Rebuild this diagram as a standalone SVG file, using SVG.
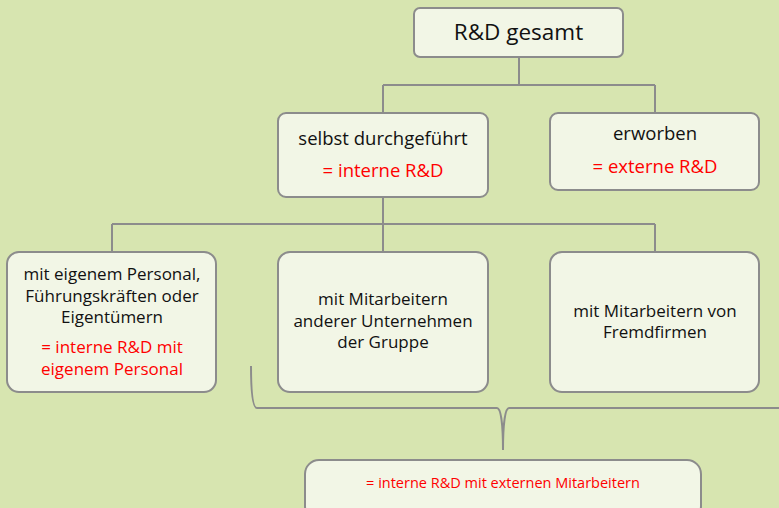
<svg xmlns="http://www.w3.org/2000/svg" width="779" height="508" viewBox="0 0 779 508">
<style>
.bg{fill:#d7e5b0}
.box{fill:#f2f6e6;stroke:#8c8c8c;stroke-width:2}
.ln{fill:none;stroke:#8c8c8c;stroke-width:2}
text{font-family:"Open Sans","Liberation Sans",sans-serif;text-anchor:middle;fill:#111}
.r{fill:#ff0000}
.t16{font-size:18.5px}
.t15{font-size:17px}
.t13{font-size:14.5px}
</style>
<rect class="bg" x="0" y="0" width="779" height="508"/>
<g id="connectors">
<path class="ln" d="M519 57V85M383 85H655M383 85V113M655 85V113"/>
<path class="ln" d="M383 197V224M112 224H655M112 224V252M383 224V252M655 224V252"/>
<path class="ln" d="M251 366C251 395 253 408 257 408H497C501 408 503 425 503 450C503 425 505 408 509 408H779"/>
</g>
<g id="n-gesamt">
<rect class="box" x="414" y="8" width="209" height="49" rx="6"/>
<text x="518.5" y="40" style="font-size:22.5px">R&amp;D gesamt</text>
</g>
<g id="n-selbst">
<rect class="box" x="278" y="113" width="210" height="84" rx="8"/>
<text class="t16" x="383" y="145">selbst durchgeführt</text>
<text class="t16 r" x="383" y="177">= interne R&amp;D</text>
</g>
<g id="n-erworben">
<rect class="box" x="550" y="113" width="209" height="77" rx="8"/>
<text class="t16" x="655" y="140">erworben</text>
<text class="t16 r" x="655" y="173">= externe R&amp;D</text>
</g>
<g id="n-eigen">
<rect class="box" x="7" y="252" width="209" height="140" rx="12"/>
<text class="t15" x="112" y="280">mit eigenem Personal,</text>
<text class="t15" x="112" y="302">Führungskräften oder</text>
<text class="t15" x="112" y="323">Eigentümern</text>
<text class="t15 r" x="112" y="353">= interne R&amp;D mit</text>
<text class="t15 r" x="112" y="375">eigenem Personal</text>
</g>
<g id="n-gruppe">
<rect class="box" x="278" y="252" width="210" height="140" rx="12"/>
<text class="t15" x="383" y="305">mit Mitarbeitern</text>
<text class="t15" x="383" y="327">anderer Unternehmen</text>
<text class="t15" x="383" y="348">der Gruppe</text>
</g>
<g id="n-fremd">
<rect class="box" x="550" y="252" width="209" height="140" rx="12"/>
<text class="t15" x="655" y="317">mit Mitarbeitern von</text>
<text class="t15" x="655" y="338">Fremdfirmen</text>
</g>
<g id="n-extern">
<rect class="box" x="305" y="460" width="396" height="60" rx="14"/>
<text class="t13 r" x="503" y="488">= interne R&amp;D mit externen Mitarbeitern</text>
</g>
</svg>
